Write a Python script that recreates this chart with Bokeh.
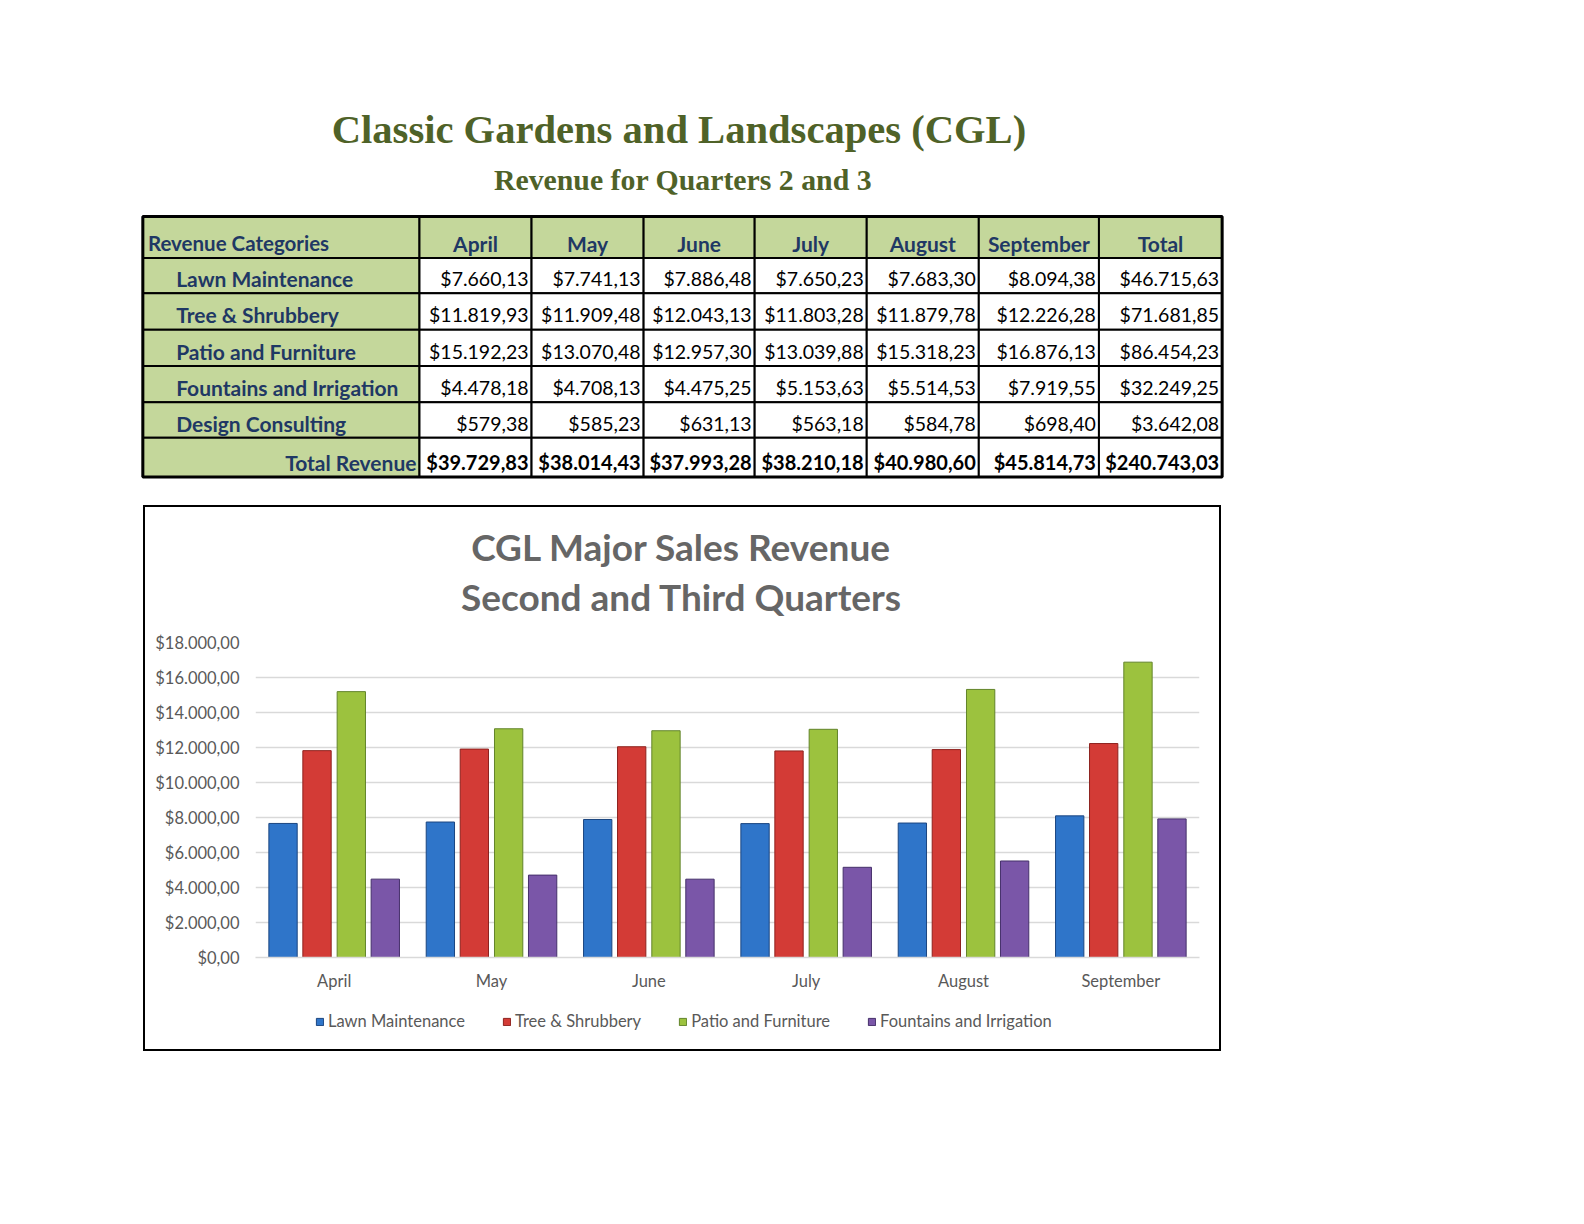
from bokeh.plotting import figure
from bokeh.models import (ColumnDataSource, Range1d, FactorRange, FixedTicker,
                          Legend, LegendItem, Spacer)
from bokeh.layouts import column, row
from bokeh.transform import dodge
from bokeh.core.properties import value
from bokeh.embed import file_html
from bokeh.resources import INLINE

# ---------------- data ----------------
months = ["April", "May", "June", "July", "August", "September"]
categories = ["Lawn Maintenance", "Tree & Shrubbery", "Patio and Furniture",
              "Fountains and Irrigation", "Design Consulting"]
lawn = [7660.13, 7741.13, 7886.48, 7650.23, 7683.30, 8094.38]
tree = [11819.93, 11909.48, 12043.13, 11803.28, 11879.78, 12226.28]
patio = [15192.23, 13070.48, 12957.30, 13039.88, 15318.23, 16876.13]
fountains = [4478.18, 4708.13, 4475.25, 5153.63, 5514.53, 7919.55]
design = [579.38, 585.23, 631.13, 563.18, 584.78, 698.40]
row_totals = [46715.63, 71681.85, 86454.23, 32249.25, 3642.08]
month_totals = [39729.83, 38014.43, 37993.28, 38210.18, 40980.60, 45814.73]
grand_total = 240743.03
y_ticks = [0, 2000, 4000, 6000, 8000, 10000, 12000, 14000, 16000, 18000]
y_tick_labels = ["$0,00", "$2.000,00", "$4.000,00", "$6.000,00", "$8.000,00",
                 "$10.000,00", "$12.000,00", "$14.000,00", "$16.000,00", "$18.000,00"]
chart_title = ["CGL Major Sales Revenue", "Second and Third Quarters"]


def money(v):
    s = f"{v:,.2f}"
    return "$" + s.replace(",", "X").replace(".", ",").replace("X", ".")


# ---------------- styles ----------------
K = 1.0096  # page px per picture px
GREEN_FILL = "#C4D79B"
NAVY = "#1F3864"
OLIVE = "#4F6228"
GRAY = "#595959"
TITLE_GRAY = "#666666"
GRID = "#D9D9D9"
FONT = "Lato"
SERIF = "Liberation Serif"

# ---------------- header + table figure ----------------
HWP, HHP = 1312, 505
hdr = figure(width=HWP, height=HHP, x_range=Range1d(0, HWP / K), y_range=Range1d(HHP / K, 0),
             output_backend="svg", toolbar_location=None, min_border=0,
             x_axis_location=None, y_axis_location=None)
hdr.grid.visible = False
hdr.outline_line_color = None
hdr.background_fill_color = "white"
hdr.border_fill_color = "white"

hdr.text(x=[672], y=[128], text=["Classic Gardens and Landscapes (CGL)"],
         text_font=value(SERIF), text_font_style="bold", text_font_size="40.6px",
         text_color=OLIVE, text_align="center", text_baseline="middle")
hdr.text(x=[676], y=[177], text=["Revenue for Quarters 2 and 3"],
         text_font=value(SERIF), text_font_style="bold", text_font_size="29.8px",
         text_color=OLIVE, text_align="center", text_baseline="middle")

col_edges = [141, 415, 526, 637, 747, 858, 969, 1088, 1210]
row_edges = [214, 255, 290, 326, 362, 398, 433, 472]
nrows = len(row_edges) - 1
ncols = len(col_edges) - 1

L, R, T, B, F = [], [], [], [], []
for r in range(nrows):
    for c in range(ncols):
        L.append(col_edges[c]); R.append(col_edges[c + 1])
        T.append(row_edges[r]); B.append(row_edges[r + 1])
        F.append(GREEN_FILL if (r == 0 or c == 0) else "white")
hdr.quad(left=L, right=R, top=T, bottom=B, fill_color=F, line_color="black", line_width=2)
hdr.quad(left=[col_edges[0]], right=[col_edges[-1]], top=[row_edges[0]], bottom=[row_edges[-1]],
         fill_color=None, line_color="black", line_width=3)


def yc(r):
    return row_edges[r + 1] - 14.5


LABEL_SIZE = "21px"
VAL_SIZE = "19.5px"

hdr.text(x=[146], y=[yc(0)], text=["Revenue Categories"], text_font=value(FONT),
         text_font_style="bold", text_font_size="20.5px", text_color=NAVY,
         text_align="left", text_baseline="middle")
hx = [(col_edges[c] + col_edges[c + 1]) / 2 for c in range(1, ncols)]
hdr.text(x=hx, y=[yc(0)] * len(hx), text=months + ["Total"], text_font=value(FONT),
         text_font_style="bold", text_font_size=LABEL_SIZE, text_color=NAVY,
         text_align="center", text_baseline="middle")

hdr.text(x=[174] * len(categories), y=[yc(r) for r in range(1, 6)], text=categories,
         text_font=value(FONT), text_font_style="bold", text_font_size=LABEL_SIZE,
         text_color=NAVY, text_align="left", text_baseline="middle")
hdr.text(x=[col_edges[1] - 3], y=[yc(6)], text=["Total Revenue"], text_font=value(FONT),
         text_font_style="bold", text_font_size=LABEL_SIZE, text_color=NAVY,
         text_align="right", text_baseline="middle")

series_rows = [lawn, tree, patio, fountains, design]
vx, vy, vt = [], [], []
for i, ser in enumerate(series_rows):
    vals = ser + [row_totals[i]]
    for c, v in enumerate(vals):
        vx.append(col_edges[c + 2] - 3); vy.append(yc(i + 1)); vt.append(money(v))
hdr.text(x=vx, y=vy, text=vt, text_font=value(FONT), text_font_size=VAL_SIZE,
         text_color="black", text_align="right", text_baseline="middle")

tx, ty, tt = [], [], []
for c, v in enumerate(month_totals + [grand_total]):
    tx.append(col_edges[c + 2] - 3); ty.append(yc(6)); tt.append(money(v))
hdr.text(x=tx, y=ty, text=tt, text_font=value(FONT), text_font_style="bold",
         text_font_size="20px", text_color="black", text_align="right",
         text_baseline="middle")

# ---------------- chart box ----------------
BOX_LEFT, BOX_W, BOX_H = 143, 1078, 546
BOX_TOP = HHP
CW = BOX_W - 4
TH = 123          # title strip
LH = 49           # legend strip
CH = BOX_H - 4 - TH - LH

# title strip (frame is aligned with the chart's frame: picture x 253..1188)
tf = figure(width=CW, height=TH, x_range=Range1d(253, 1188),
            y_range=Range1d((BOX_TOP + 2 + TH) / K, (BOX_TOP + 2) / K),
            output_backend="svg", toolbar_location=None, min_border=0,
            x_axis_location=None, y_axis_location=None)
tf.grid.visible = False
tf.outline_line_color = None
tf.text(x=[675, 675], y=[541, 590], text=chart_title, text_font=value(FONT),
        text_font_style="bold", text_font_size="37px", text_color=TITLE_GRAY,
        text_align="center", text_baseline="middle")

p = figure(width=CW, height=CH, x_range=FactorRange(*months), y_range=Range1d(0, 18000),
           output_backend="svg", toolbar_location=None,
           min_border_left=110, min_border_right=20, min_border_top=12, min_border_bottom=43)
p.x_range.range_padding = 0
p.outline_line_color = None
p.background_fill_color = "white"
p.border_fill_color = "white"
p.xgrid.visible = False
p.ygrid.grid_line_color = GRID
p.ygrid.grid_line_width = 1.5

p.yaxis.ticker = FixedTicker(ticks=y_ticks)
p.yaxis.major_label_overrides = {t: lab for t, lab in zip(y_ticks, y_tick_labels)}
p.yaxis.axis_line_color = None
p.yaxis.major_tick_line_color = None
p.yaxis.minor_tick_line_color = None
p.yaxis.major_tick_out = 0
p.yaxis.major_label_standoff = 16
p.yaxis.major_label_text_font = FONT
p.yaxis.major_label_text_font_size = "16.5px"
p.yaxis.major_label_text_color = GRAY

p.xaxis.axis_line_color = GRID
p.xaxis.axis_line_width = 1.5
p.xaxis.major_tick_line_color = None
p.xaxis.major_tick_out = 0
p.xaxis.major_label_standoff = 13
p.xaxis.major_label_text_font = FONT
p.xaxis.major_label_text_font_size = "16.5px"
p.xaxis.major_label_text_color = GRAY

src = ColumnDataSource(dict(month=months, lawn=lawn, tree=tree, patio=patio, fountains=fountains))
series = [("lawn", "Lawn Maintenance", "#2F75C9", "#1B4680"),
          ("tree", "Tree & Shrubbery", "#D33B36", "#8E221E"),
          ("patio", "Patio and Furniture", "#9CC23E", "#62842A"),
          ("fountains", "Fountains and Irrigation", "#7A56A8", "#45306A")]
offsets = [-0.325, -0.109, 0.109, 0.325]
for (key, label, fill, edge), off in zip(series, offsets):
    p.vbar(x=dodge("month", off, range=p.x_range), top=key, width=0.18, source=src,
           fill_color=fill, line_color=edge, line_width=1)

# legend strip (swatches styled like the bars; their own glyphs sit far outside the view)
lg = figure(width=CW, height=LH, x_range=Range1d(0, 1), y_range=Range1d(0, 1),
            output_backend="svg", toolbar_location=None, min_border=0,
            x_axis_location=None, y_axis_location=None)
lg.grid.visible = False
lg.outline_line_color = None
items = []
for key, label, fill, edge in series:
    rr = lg.vbar(x=[-100], top=[-100], bottom=[-101], width=0.1, fill_color=fill,
                 line_color=edge, line_width=1)
    items.append(LegendItem(label=label, renderers=[rr]))
legend = Legend(items=items, orientation="horizontal", location=(60, 18),
                glyph_width=9, glyph_height=9, label_standoff=4, spacing=37,
                label_height=17, padding=0, margin=0, border_line_color=None,
                background_fill_alpha=0, label_text_font=FONT,
                label_text_font_size="16.5px", label_text_color=GRAY)
lg.add_layout(legend, "center")

BLACK = {"background-color": "black"}
box = row(
    Spacer(width=2, height=BOX_H, styles=BLACK),
    column(Spacer(width=CW, height=2, styles=BLACK), tf, p, lg,
           Spacer(width=CW, height=2, styles=BLACK)),
    Spacer(width=2, height=BOX_H, styles=BLACK),
)
layout = column(hdr, row(Spacer(width=BOX_LEFT, height=BOX_H), box))
open("out.html", "w").write(file_html(layout, INLINE))
